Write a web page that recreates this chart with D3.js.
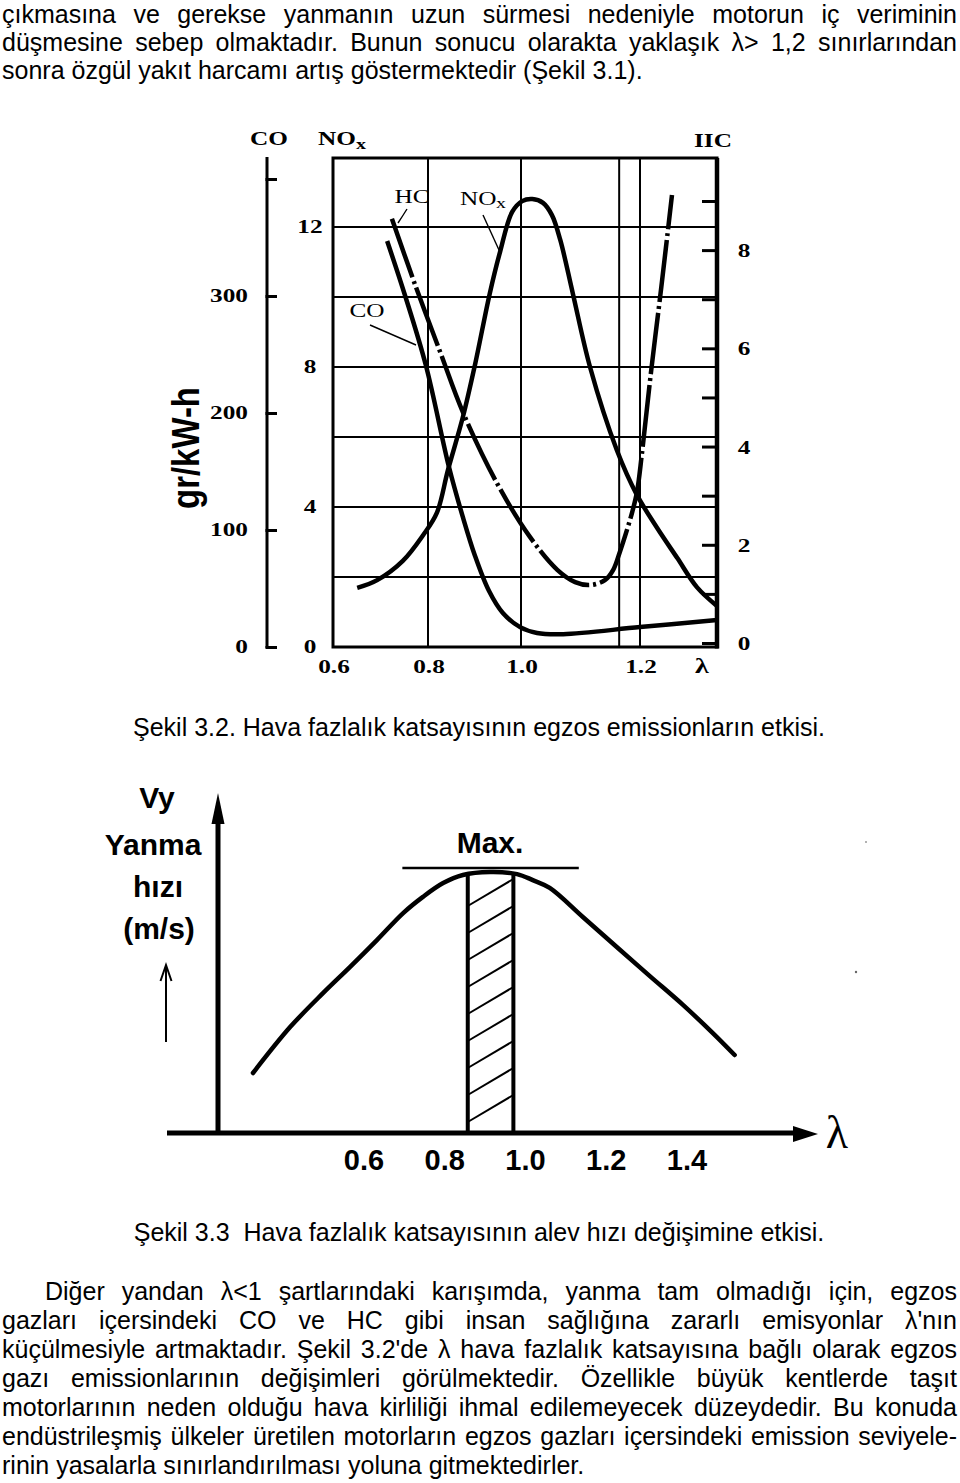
<!DOCTYPE html>
<html lang="tr"><head><meta charset="utf-8">
<script src="https://cdn.jsdelivr.net/npm/d3@7/dist/d3.min.js"></script>
<style>html,body{margin:0;padding:0;background:#fff}svg{display:block}</style>
</head><body>
<svg id="page" width="960" height="1483" xmlns="http://www.w3.org/2000/svg"></svg>
<script>
// ---------------- DATA ----------------
const introLines = [
  "çıkmasına ve gerekse yanmanın uzun sürmesi nedeniyle motorun iç veriminin",
  "düşmesine sebep olmaktadır. Bunun sonucu olarakta yaklaşık λ> 1,2 sınırlarından",
  "sonra özgül yakıt harcamı artış göstermektedir (Şekil 3.1)."
];
const captionEmissions = "Şekil 3.2. Hava fazlalık katsayısının egzos emissionların etkisi.";
const captionFlame = "Şekil 3.3  Hava fazlalık katsayısının alev hızı değişimine etkisi.";
const bodyLines = [
  "Diğer yandan λ<1 şartlarındaki karışımda, yanma tam olmadığı için, egzos",
  "gazları içersindeki CO ve HC gibi insan sağlığına zararlı emisyonlar λ'nın",
  "küçülmesiyle artmaktadır. Şekil 3.2'de λ hava fazlalık katsayısına bağlı olarak egzos",
  "gazı emissionlarının değişimleri görülmektedir. Özellikle büyük kentlerde taşıt",
  "motorlarının neden olduğu hava kirliliği ihmal edilemeyecek düzeydedir. Bu konuda",
  "endüstrileşmiş ülkeler üretilen motorların egzos gazları içersindeki emission seviyele-",
  "rinin yasalarla sınırlandırılması yoluna gitmektedirler."
];

// Figure 3.2 – emissions vs lambda
const lambdaTicksEm = [0.6, 0.8, 1.0, 1.2];
const lambdaGridEm = [0.8, 1.0, 1.165, 1.2];
const coTickLabels = [0, 100, 200, 300];
const coTickMarks = [0, 100, 200, 300, 400];
const noxTickLabels = [0, 4, 8, 12];
const noxGrid = [2, 4, 6, 8, 10, 12];
const hcTickLabels = [0, 2, 4, 6, 8];
const hcTickMarks = [0, 1, 2, 3, 4, 5, 6, 7, 8, 9];
// [lambda, g/kWh]
const coCurve = [[0.714,347],[0.752,300],[0.796,240],[0.845,154],[0.875,111],[0.901,78],[0.931,48],
  [0.961,29],[0.998,17],[1.027,12],[1.071,11],[1.2,17],[1.33,23]];
// [lambda, HC value]
const hcCurve = [[0.724,8.64],[0.773,7.29],[0.826,5.93],[0.875,4.70],[0.948,3.26],[1.015,2.16],
  [1.061,1.49],[1.091,1.24],[1.116,1.18],[1.141,1.28],[1.155,1.49],[1.166,1.85],[1.178,2.30],
  [1.187,2.67],[1.195,3.08],[1.203,3.83],[1.219,5.56],[1.236,7.25],[1.254,9.12]];
// [lambda, NOx value]
const noxCurve = [[0.651,1.69],[0.693,1.91],[0.747,2.46],[0.790,3.20],[0.819,3.83],[0.843,5.06],
  [0.875,6.57],[0.901,8.06],[0.933,10.11],[0.955,11.29],[0.981,12.43],[1.002,12.74],[1.019,12.80],
  [1.037,12.69],[1.052,12.34],[1.066,11.63],[1.087,10.11],[1.116,8.00],[1.161,5.63],[1.195,4.34],
  [1.229,3.40],[1.263,2.54],[1.296,1.71],[1.33,1.17]];

// Figure 3.3 – flame speed vs lambda
const lambdaTicksFlame = [0.6, 0.8, 1.0, 1.2, 1.4];
const flameCurve = [[0.325,0.200],[0.417,0.353],[0.499,0.467],[0.565,0.553],[0.632,0.643],
  [0.697,0.733],[0.746,0.787],[0.796,0.833],[0.845,0.860],[0.912,0.870],[0.979,0.863],
  [1.018,0.843],[1.060,0.817],[1.142,0.720],[1.226,0.620],[1.308,0.523],[1.390,0.427],
  [1.464,0.333],[1.518,0.260]];
const optimumBand = [0.857, 0.97];
const maxLine = { value: 0.883, from: 0.695, to: 1.132 };
const yAxisTitle = ["Vy", "Yanma", "hızı", "(m/s)"];

// ---------------- DRAWING ----------------
const SANS = "'Liberation Sans', Arial, sans-serif";
const SERIF = "'Liberation Serif', 'Times New Roman', serif";
const svg = d3.select('#page');

function drawLine(str, x0, x1, y, justify, size) {
  const words = str.split(' ');
  const g = svg.append('g').attr('font-family', SANS).attr('font-size', size).attr('fill', '#000');
  const nodes = words.map(w => g.append('text').attr('y', y).text(w));
  const widths = nodes.map(n => n.node().getComputedTextLength());
  const sum = d3.sum(widths);
  const sp = size * 0.278;
  let gap = sp, f = 1;
  if (justify && words.length > 1) {
    gap = (x1 - x0 - sum) / (words.length - 1);
    if (gap < sp * 0.5) { gap = sp * 0.5; f = (x1 - x0 - gap * (words.length - 1)) / sum; }
  }
  let x = x0;
  nodes.forEach((n, i) => {
    n.attr('x', x);
    if (f !== 1) n.attr('textLength', widths[i] * f).attr('lengthAdjust', 'spacingAndGlyphs');
    x += widths[i] * f + gap;
  });
}

// intro paragraph
const introBase = [22.8, 51, 79.2];
introLines.forEach((l, i) => drawLine(l, 2, 957, introBase[i], i < introLines.length - 1, 25));

// captions
svg.append('text').attr('x', 479).attr('y', 736).attr('text-anchor', 'middle')
  .attr('font-family', SANS).attr('font-size', 25).style('white-space', 'pre').text(captionEmissions);
svg.append('text').attr('x', 479).attr('y', 1241).attr('text-anchor', 'middle')
  .attr('font-family', SANS).attr('font-size', 25).style('white-space', 'pre').text(captionFlame);

// body paragraph
bodyLines.forEach((l, i) => drawLine(l, i === 0 ? 45 : 2, 957, 1300 + i * 29, i < bodyLines.length - 1, 25));

// ---------- Figure 3.2 ----------
function serifLabel(g, x, y, str, opt = {}) {
  const t = g.append('text').attr('x', x).attr('y', y)
    .attr('font-family', SERIF).attr('font-size', opt.size || 19)
    .attr('font-weight', opt.weight || 'bold').attr('text-anchor', opt.anchor || 'middle').text(str);
  const w = t.node().getComputedTextLength();
  t.attr('textLength', w * (opt.sx || 1.33)).attr('lengthAdjust', 'spacingAndGlyphs');
  return t;
}

const f1 = svg.append('g');
const x1 = d3.scaleLinear().domain([0.6, 0.8, 1.0, 1.2, 1.33]).range([333, 428, 521, 640, 717]);
const yNox = d3.scaleLinear().domain([0, 14]).range([647, 157]);
const yCo = d3.scaleLinear().domain([0, 400]).range([647, 179]);
const yHc = d3.scaleLinear().domain([0, 9]).range([643, 201]);
const pL = x1(0.6), pR = x1(1.33), pT = 158, pB = 647;

// grid
f1.selectAll('.vg').data(lambdaGridEm).join('line')
  .attr('x1', d => x1(d)).attr('x2', d => x1(d)).attr('y1', pT).attr('y2', pB)
  .attr('stroke', '#000').attr('stroke-width', 2);
f1.selectAll('.hg').data(noxGrid).join('line')
  .attr('x1', pL).attr('x2', pR).attr('y1', d => yNox(d)).attr('y2', d => yNox(d))
  .attr('stroke', '#000').attr('stroke-width', 2);
// frame
f1.append('rect').attr('x', pL).attr('y', pT).attr('width', pR - pL).attr('height', pB - pT)
  .attr('fill', 'none').attr('stroke', '#000').attr('stroke-width', 3);
f1.append('line').attr('x1', pR).attr('x2', pR).attr('y1', pT).attr('y2', pB + 1.5)
  .attr('stroke', '#000').attr('stroke-width', 4.5);

// CO axis (left)
const coAxisX = 267;
f1.append('line').attr('x1', coAxisX).attr('x2', coAxisX).attr('y1', 157).attr('y2', 648)
  .attr('stroke', '#000').attr('stroke-width', 3);
f1.append('g').attr('transform', `translate(${coAxisX - 1.5},0)`)
  .call(d3.axisRight(yCo).tickValues(coTickMarks).tickSize(11.5).tickFormat(''))
  .call(a => { a.select('.domain').remove(); a.selectAll('line').attr('stroke', '#000').attr('stroke-width', 3); });
coTickLabels.forEach(v => serifLabel(f1, 248, yCo(v) + 6, String(v), { anchor: 'end' }));

// NOx labels (middle)
noxTickLabels.forEach(v => serifLabel(f1, 310, yNox(v) + 6, String(v)));

// HC axis (right)
f1.append('g').attr('transform', `translate(${pR},0)`)
  .call(d3.axisLeft(yHc).tickValues(hcTickMarks).tickSize(15).tickFormat(''))
  .call(a => { a.select('.domain').remove(); a.selectAll('line').attr('stroke', '#000').attr('stroke-width', 3); });
hcTickLabels.forEach(v => serifLabel(f1, 744, yHc(v) + 7, String(v)));

// x labels
lambdaTicksEm.forEach(v => serifLabel(f1, x1(v) + 1, 673, v.toFixed(1)));
serifLabel(f1, 702, 673, 'λ', { size: 21 });

// top titles
serifLabel(f1, 269, 145, 'CO');
serifLabel(f1, 318, 145, 'NO', { anchor: 'start' });
serifLabel(f1, 356, 149, 'x', { anchor: 'start', size: 15 });
serifLabel(f1, 713, 147, 'IIC');

// y unit label
f1.append('text').attr('transform', 'translate(199,448) rotate(-90)')
  .attr('text-anchor', 'middle').attr('font-family', SANS).attr('font-weight', 'bold')
  .attr('font-size', 38).attr('textLength', 122).attr('lengthAdjust', 'spacingAndGlyphs').text('gr/kW-h');

// curves
const lineCo = d3.line().x(d => x1(d[0])).y(d => yCo(d[1])).curve(d3.curveCatmullRom.alpha(0.5));
const lineHc = d3.line().x(d => x1(d[0])).y(d => yHc(d[1])).curve(d3.curveCatmullRom.alpha(0.5));
const lineNox = d3.line().x(d => x1(d[0])).y(d => yNox(d[1])).curve(d3.curveCatmullRom.alpha(0.5));
f1.append('path').attr('d', lineNox(noxCurve)).attr('fill', 'none').attr('stroke', '#000').attr('stroke-width', 4.5);
f1.append('path').attr('d', lineCo(coCurve)).attr('fill', 'none').attr('stroke', '#000').attr('stroke-width', 4.5);
f1.append('path').attr('d', lineHc(hcCurve)).attr('fill', 'none').attr('stroke', '#000').attr('stroke-width', 4.5)
  .attr('stroke-dasharray', '62,4,3,4');

// in-plot labels & leaders
serifLabel(f1, 412, 203, 'HC', { weight: 'normal' });
f1.append('path').attr('d', 'M407,209 Q402,217 398,223').attr('fill', 'none').attr('stroke', '#000').attr('stroke-width', 1.4);
serifLabel(f1, 460, 205, 'NO', { weight: 'normal', anchor: 'start' });
serifLabel(f1, 496, 208, 'x', { weight: 'normal', anchor: 'start', size: 15 });
f1.append('line').attr('x1', 483).attr('y1', 215).attr('x2', 499).attr('y2', 250).attr('stroke', '#000').attr('stroke-width', 1.4);
serifLabel(f1, 367, 317, 'CO', { weight: 'normal' });
f1.append('line').attr('x1', 370).attr('y1', 325).attr('x2', 416).attr('y2', 345).attr('stroke', '#000').attr('stroke-width', 1.4);

// ---------- Figure 3.3 ----------
const f2 = svg.append('g');
const x2 = d3.scaleLinear().domain([0.6, 1.4]).range([364, 687]);
const y2 = d3.scaleLinear().domain([0, 1]).range([1133, 833]);
const axisX = 218;

// axes
f2.append('line').attr('x1', axisX).attr('x2', axisX).attr('y1', y2(0) + 2).attr('y2', 815)
  .attr('stroke', '#000').attr('stroke-width', 5);
f2.append('path').attr('d', `M${axisX},793 L${axisX + 6.5},824 L${axisX - 6.5},824 Z`).attr('fill', '#000');
f2.append('line').attr('x1', 167).attr('x2', 800).attr('y1', y2(0)).attr('y2', y2(0))
  .attr('stroke', '#000').attr('stroke-width', 5);
f2.append('path').attr('d', `M818,${y2(0) + 1} L793,${y2(0) - 7} L793,${y2(0) + 9} Z`).attr('fill', '#000');
f2.append('text').attr('x', 837).attr('y', 1148).attr('text-anchor', 'middle')
  .attr('font-family', SERIF).attr('font-size', 46).text('λ');

// tick labels
f2.selectAll('.tl').data(lambdaTicksFlame).join('text')
  .attr('x', d => x2(d)).attr('y', 1170).attr('text-anchor', 'middle')
  .attr('font-family', SANS).attr('font-weight', 'bold').attr('font-size', 29)
  .text(d => d.toFixed(1));

// y title
const titleY = [808, 855, 897, 939];
const titleX = [157, 153, 158, 159];
yAxisTitle.forEach((t, i) => f2.append('text').attr('x', titleX[i]).attr('y', titleY[i])
  .attr('text-anchor', 'middle').attr('font-family', SANS).attr('font-weight', 'bold')
  .attr('font-size', 30).text(t));
// thin arrow
f2.append('line').attr('x1', 166).attr('x2', 166).attr('y1', 1042).attr('y2', 966).attr('stroke', '#000').attr('stroke-width', 2);
f2.append('path').attr('d', 'M160.5,981 L166,965 L171.5,981').attr('fill', 'none').attr('stroke', '#000').attr('stroke-width', 2);

// interpolate curve value
function curveAt(l) {
  const i = d3.bisector(d => d[0]).left(flameCurve, l);
  const a = flameCurve[i - 1], b = flameCurve[i];
  return a[1] + (b[1] - a[1]) * (l - a[0]) / (b[0] - a[0]);
}

// hatch band
const bx0 = x2(optimumBand[0]), bx1 = x2(optimumBand[1]);
f2.append('clipPath').attr('id', 'band').append('rect')
  .attr('x', bx0).attr('y', y2(maxLine.value)).attr('width', bx1 - bx0).attr('height', y2(0) - y2(maxLine.value));
const hatch = f2.append('g').attr('clip-path', 'url(#band)');
d3.range(0, 9).forEach(k => {
  const yl = y2(0) - 11 - 27 * k;
  hatch.append('line').attr('x1', bx0).attr('y1', yl).attr('x2', bx1).attr('y2', yl - 27)
    .attr('stroke', '#000').attr('stroke-width', 2);
});
optimumBand.forEach(l => f2.append('line').attr('x1', x2(l)).attr('x2', x2(l))
  .attr('y1', y2(0)).attr('y2', y2(curveAt(l)))
  .attr('stroke', '#000').attr('stroke-width', 4));

// max line
f2.append('line').attr('x1', x2(maxLine.from)).attr('x2', x2(maxLine.to))
  .attr('y1', y2(maxLine.value)).attr('y2', y2(maxLine.value)).attr('stroke', '#000').attr('stroke-width', 2.5);
f2.append('text').attr('x', 490).attr('y', 853).attr('text-anchor', 'middle')
  .attr('font-family', SANS).attr('font-weight', 'bold').attr('font-size', 30).text('Max.');

// flame curve
const lineFlame = d3.line().x(d => x2(d[0])).y(d => y2(d[1])).curve(d3.curveCatmullRom.alpha(0.5));
f2.append('path').attr('d', lineFlame(flameCurve)).attr('fill', 'none').attr('stroke', '#000')
  .attr('stroke-width', 4.5).attr('stroke-linecap', 'round');

// stray scan dots
f2.append('circle').attr('cx', 866).attr('cy', 842).attr('r', 1).attr('fill', '#999');
f2.append('circle').attr('cx', 856).attr('cy', 972).attr('r', 1.2).attr('fill', '#666');
</script>
</body></html>
